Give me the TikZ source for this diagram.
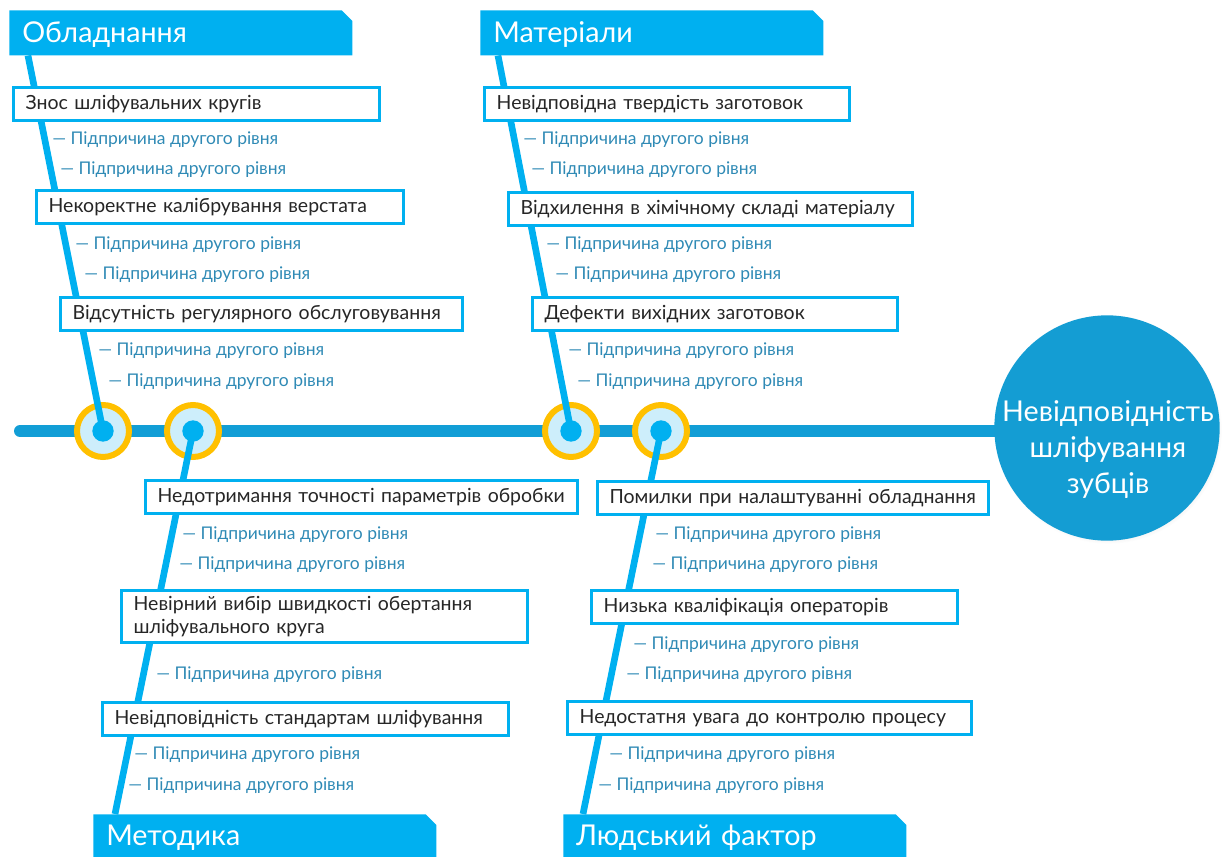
\documentclass[tikz,border=0pt]{standalone}
\usepackage{fontspec}
\setmainfont{Lato}
\usetikzlibrary{shapes.misc, shadows}
\definecolor{spineblue}{HTML}{129ED6}
\definecolor{boneblue}{HTML}{00B0F0}
\definecolor{effectblue}{HTML}{149DD3}
\definecolor{ringgold}{HTML}{FFC000}
\definecolor{ringfill}{HTML}{CDEEFB}
\definecolor{subblue}{HTML}{2F8AB5}
\definecolor{causetext}{HTML}{262626}
\pgfdeclarelayer{back}
\pgfdeclarelayer{bones}
\pgfsetlayers{back,bones,main}
\tikzstyle{spine} = [line width=9pt, color=spineblue, line cap=round]
\tikzstyle{bone} = [line width=5pt, color=boneblue]
\tikzstyle{ring} = [circle, draw=ringgold, line width=4.5pt, fill=ringfill, minimum size=39pt, inner sep=0pt]
\tikzstyle{dot} = [circle, fill=boneblue, minimum size=16pt, inner sep=0pt]
\tikzstyle{effect} = [circle, fill=effectblue, minimum size=169pt, inner sep=0pt, circular drop shadow={opacity=0.25, shadow xshift=1pt, shadow yshift=-1.5pt, shadow scale=1.01}]
\tikzstyle{header} = [chamfered rectangle, chamfered rectangle corners=north east, chamfered rectangle xsep=4pt, chamfered rectangle ysep=4pt, fill=boneblue, text=white, font=\fontsize{21.5}{25}\selectfont, align=left, text width=237.75pt, text height=15pt, text depth=0pt, inner xsep=5.75pt, inner ysep=0pt, anchor=north west]
\tikzstyle{cause} = [rectangle, draw=boneblue, line width=2.5pt, fill=white, text=causetext, font=\fontsize{14.6}{17.5}\selectfont, align=left, inner xsep=9pt, inner ysep=0pt, minimum height=24.75pt, anchor=north west]
\tikzstyle{subcause} = [text=subblue, font=\fontsize{13.1}{15}\selectfont, inner sep=0pt, anchor=west]

\begin{document}
\begin{tikzpicture}[x=0.75pt, y=-0.75pt]
\useasboundingbox (0,0) rectangle (1222,857);

% effect
\node (effect) [effect] at (1107,428) {};
\node (effectlbl) [font=\fontsize{21.5}{27}\selectfont, text=white, align=center] at (1108,450) {Невідповідність\\шліфування\\зубців};
\coordinate (tail) at (20,431);

% spine and joints
\begin{pgfonlayer}{back}
\draw [spine] (tail) -- (tail -| effect);
\node (ringA) [ring] at (103,431) {};
\node (ringC) [ring] at (193,431) {};
\node (ringB) [ring] at (571,431) {};
\node (ringD) [ring] at (661,431) {};
\end{pgfonlayer}
\node (dotA) [dot] at (ringA) {};
\node (dotC) [dot] at (ringC) {};
\node (dotB) [dot] at (ringB) {};
\node (dotD) [dot] at (ringD) {};

% categories
\node (hdrA) [header, minimum height=33.75pt] at (9,10) {Обладнання};
\node (hdrB) [header, minimum height=33.75pt] at (480,10) {Матеріали};
\node (hdrC) [header, minimum height=32.25pt] at (93,814) {Методика};
\node (hdrD) [header, minimum height=32.25pt] at (563,814) {Людський фактор};

\begin{pgfonlayer}{bones}
\draw [bone] ([xshift=14.25pt]hdrA.south west) -- (dotA.center);
\draw [bone] ([xshift=13.5pt]hdrB.south west) -- (dotB.center);
\draw [bone] ([xshift=16.5pt]hdrC.north west) -- (dotC.center);
\draw [bone] ([xshift=15pt]hdrD.north west) -- (dotD.center);
\end{pgfonlayer}

% causes
\node (causeA1) [cause, text width=256.5pt] at (12,86) {Знос шліфувальних кругів};
\node (causeA2) [cause, text width=257.25pt] at (35,189) {Некоректне калібрування верстата};
\node (causeA3) [cause, text width=283.5pt] at (59,296) {Відсутність регулярного обслуговування};
\node (causeB1) [cause, text width=255.75pt] at (483,86) {Невідповідна твердість заготовок};
\node (causeB2) [cause, text width=285pt] at (507,191) {Відхилення в хімічному складі матеріалу};
\node (causeB3) [cause, text width=255.75pt] at (531,296) {Дефекти вихідних заготовок};
\node (causeC1) [cause, text width=306pt] at (144,479) {Недотримання точності параметрів обробки};
\node (causeC2) [cause, text width=286.5pt, minimum height=39pt] at (120,589) {Невірний вибір швидкості обертання\\шліфувального круга};
\node (causeC3) [cause, text width=286.5pt] at (101,701) {Невідповідність стандартам шліфування};
\node (causeD1) [cause, text width=275.25pt] at (596,480) {Помилки при налаштуванні обладнання};
\node (causeD2) [cause, text width=256.5pt] at (590,589) {Низька кваліфікація операторів};
\node (causeD3) [cause, text width=285pt] at (566,700) {Недостатня увага до контролю процесу};

% sub-causes
\foreach \x/\y [count=\i] in {52/140, 60/170, 75/245, 84/275, 98/351, 108/382,
    523/140, 531/170, 546/245, 555/275, 568/351, 577/382,
    182/535, 179/565, 156/675, 134/755, 128/786,
    655/535, 652/565, 633/645, 626/675, 609/755, 598/786}
  \node (sub\i) [subcause] at (\x,\y) {— Підпричина другого рівня};
\end{tikzpicture}
\end{document}
